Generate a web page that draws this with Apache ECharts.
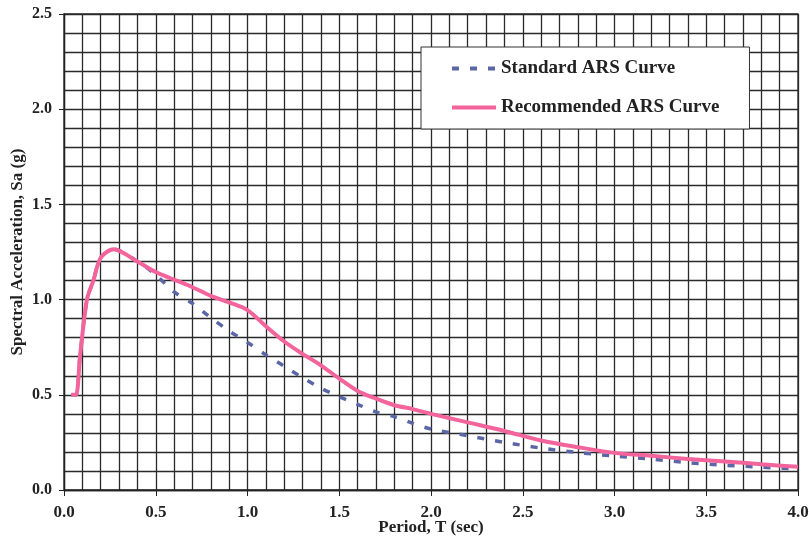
<!DOCTYPE html>
<html>
<head>
<meta charset="utf-8">
<script src="https://cdn.jsdelivr.net/npm/echarts@6/dist/echarts.min.js"></script>
<style>
  html, body { margin: 0; padding: 0; background: #fff; }
  #root { width: 809px; height: 539px; }
</style>
</head>
<body>
<div id="root"></div>
<script>
// period values (sec) and spectral accelerations (g)
const periods = [0.04, 0.065, 0.087, 0.125, 0.16, 0.2, 0.27, 0.4, 0.5, 0.6, 0.7, 0.8, 0.9, 1.0,
  1.1, 1.2, 1.3, 1.4, 1.5, 1.6, 1.7, 1.8, 1.9, 2.0, 2.2, 2.4, 2.6, 2.8, 3.0, 3.2, 3.4, 3.6, 3.8, 4.0]
const standardArs = [0.50, 0.50, 0.70, 1.0, 1.10, 1.22, 1.265, 1.20, 1.13, 1.04, 0.98, 0.905, 0.835, 0.775,
  0.71, 0.65, 0.59, 0.535, 0.49, 0.45, 0.41, 0.385, 0.35, 0.32, 0.285, 0.25, 0.22, 0.197, 0.178, 0.163, 0.143, 0.13, 0.12, 0.11]
const recommendedArs = [0.50, 0.50, 0.70, 1.0, 1.10, 1.22, 1.265, 1.20, 1.145, 1.105, 1.065, 1.02, 0.985, 0.945,
  0.86, 0.78, 0.715, 0.655, 0.585, 0.52, 0.48, 0.445, 0.425, 0.40, 0.355, 0.31, 0.26, 0.225, 0.195, 0.18, 0.163, 0.15, 0.135, 0.122]
const seriesNames = ['Standard ARS Curve', 'Recommended ARS Curve']

const pairs = (xs, ys) => xs.map((x, i) => [x, ys[i]])

const font = 'Liberation Serif'
const gridLine = { color: '#2a2a2a', width: 1.3 }

const chart = echarts.init(document.getElementById('root'))

const option = {
  animation: false,
  backgroundColor: '#fff',
  grid: {
    left: 64, right: 11, top: 14, bottom: 49,
    outerBoundsMode: 'none',
    containLabel: false,
    show: true, borderColor: '#2a2a2a', borderWidth: 1.3
  },
  legend: {
    data: seriesNames,
    orient: 'vertical',
    left: 421,
    top: 47,
    itemWidth: 44,
    itemHeight: 14,
    itemGap: 20,
    padding: [12, 30, 12, 29],
    backgroundColor: '#fff',
    borderColor: '#333',
    borderWidth: 1,
    itemStyle: { opacity: 0 },
    lineStyle: { width: 4 },
    textStyle: { fontFamily: font, fontWeight: 'bold', fontSize: 19, color: '#222' }
  },
  xAxis: {
    type: 'value',
    min: 0,
    max: 4,
    interval: 0.5,
    name: 'Period, T (sec)',
    nameLocation: 'middle',
    nameGap: 29,
    nameMoveOverlap: false,
    nameTextStyle: { fontFamily: font, fontWeight: 'bold', fontSize: 17, color: '#222' },
    axisLine: { lineStyle: { color: '#222', width: 1.3 } },
    axisTick: { show: true, length: 6, lineStyle: { color: '#222' } },
    axisLabel: { margin: 14, fontFamily: font, fontWeight: 'bold', fontSize: 17, color: '#222', formatter: v => v.toFixed(1) },
    splitLine: { show: true, lineStyle: gridLine },
    minorTick: { show: false, splitNumber: 5 },
    minorSplitLine: { show: true, lineStyle: gridLine }
  },
  yAxis: {
    type: 'value',
    min: 0,
    max: 2.5,
    interval: 0.5,
    name: 'Spectral Acceleration, Sa (g)',
    nameLocation: 'middle',
    nameGap: 38,
    nameMoveOverlap: false,
    nameTextStyle: { fontFamily: font, fontWeight: 'bold', fontSize: 17, color: '#222' },
    axisLine: { show: true, lineStyle: { color: '#222', width: 1.3 } },
    axisTick: { show: true, length: 5, lineStyle: { color: '#222' } },
    axisLabel: { margin: 12, fontFamily: font, fontWeight: 'bold', fontSize: 16, color: '#222', formatter: v => v.toFixed(1) },
    splitLine: { show: true, lineStyle: gridLine },
    minorTick: { show: false, splitNumber: 5 },
    minorSplitLine: { show: true, lineStyle: gridLine }
  },
  series: [
    {
      name: seriesNames[0],
      type: 'line',
      data: pairs(periods, standardArs),
      smooth: 0.3,
      symbol: 'none',
      z: 3,
      lineStyle: { color: '#5b66a6', width: 3.5, type: [7, 11] },
      itemStyle: { color: '#5b66a6' }
    },
    {
      name: seriesNames[1],
      type: 'line',
      data: pairs(periods, recommendedArs),
      smooth: 0.3,
      symbol: 'none',
      z: 4,
      lineStyle: { color: '#f2649b', width: 4 },
      itemStyle: { color: '#f2649b' }
    }
  ]
}

chart.setOption(option)
</script>
</body>
</html>
